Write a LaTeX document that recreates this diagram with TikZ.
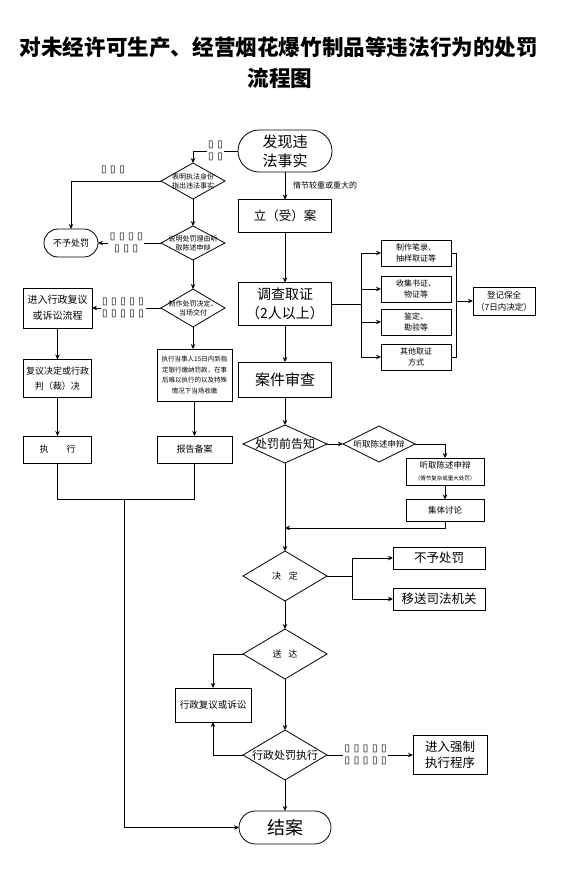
\documentclass[tikz,border=0pt]{standalone}
\usepackage{fontspec}
\setmainfont{Noto Sans CJK SC}
\newfontfamily\dejavu{DejaVu Sans}
\usetikzlibrary{shapes.geometric,arrows.meta}
\newcommand\fs[2]{\fontsize{#1}{#2}\selectfont}
\newcommand\tg{▯}
\newcommand\tgs{\hspace{3.6pt}}
\begin{document}
\begin{tikzpicture}[x=1pt,y=-1pt,
  every node/.style={inner sep=0pt, outer sep=0pt},
  ln/.style={line width=0.8pt, draw=black},
  bx/.style={draw, line width=0.8pt, rectangle, align=center},
  dia/.style={draw, line width=0.8pt, diamond, inner sep=0pt},
  arr/.style={-{Stealth[length=5pt,width=4.5pt]}},
  tofu/.style={fill=white, inner sep=1.5pt, align=center, font=\dejavu\fs{10pt}{12.5pt}}
]
\useasboundingbox (0,0) rectangle (560,878);

% title
\node[font=\bfseries\fs{21.6pt}{26pt}] (title1) at (279,47) {对未经许可生产、经营烟花爆竹制品等违法行为的处罚};
\node[font=\bfseries\fs{21.6pt}{26pt}] (title2) at (280,78) {流程图};

% main column
\node[bx, rounded corners=21pt, minimum width=94pt, minimum height=42pt, font=\fs{15pt}{19pt}] (start) at (285,151) {发现违\\法事实};
\node[font=\fs{8pt}{10pt}, anchor=west] (lab1) at (293,185) {情节较重或重大的};
\node[bx, minimum width=93pt, minimum height=33pt, font=\fs{12.5pt}{15pt}] (li) at (285,216) {立（受）案};
\node[bx, minimum width=93pt, minimum height=43pt, font=\fs{14pt}{19pt}] (dc) at (285,304) {调查取证\\（2人以上）};
\node[bx, minimum width=93pt, minimum height=35pt, font=\fs{15pt}{18pt}] (sc) at (285,379.5) {案件审查};
\draw[ln,arr] (start) -- (li);
\draw[ln,arr] (li) -- (dc);
\draw[ln,arr] (dc) -- (sc);

% evidence
\node[bx, minimum width=70pt, minimum height=26pt, font=\fs{8pt}{11pt}] (e1) at (416,253) {制作笔录、\\抽样取证等};
\node[bx, minimum width=70pt, minimum height=26pt, font=\fs{8pt}{11pt}] (e2) at (416,289) {收集书证、\\物证等};
\node[bx, minimum width=70pt, minimum height=26pt, font=\fs{8pt}{11pt}] (e3) at (416,322) {鉴定、\\勘验等};
\node[bx, minimum width=70pt, minimum height=26pt, font=\fs{8pt}{11pt}] (e4) at (416,357) {其他取证\\方式};
\node[bx, minimum width=62pt, minimum height=28pt, font=\fs{8.5pt}{12pt}] (dj) at (504,301) {登记保全\\（7日内决定）};
\coordinate (vl) at (361,304);
\coordinate (vr) at (456,301);
\draw[ln] (dc.east) -- (vl);
\draw[ln] (e1.west -| vl) -- (e4.west -| vl);
\foreach \e in {e1,e2,e3,e4} \draw[ln,arr] (\e.west -| vl) -- (\e.west);
\draw[ln] (e1.east) -- (e1.east -| vr) -- (e4.east -| vr) -- (e4.east);
\draw[ln,arr] (vr) -- (dj.west);

% notification
\node[dia, minimum width=84pt, minimum height=38pt, label={[font=\fs{12pt}{14pt}]center:处罚前告知}] (pre) at (285,444) {};
\node[dia, minimum width=72pt, minimum height=36pt, label={[font=\fs{8.5pt}{10pt}]center:听取陈述申辩}] (ting) at (379,444) {};
\node[bx, minimum width=78pt, minimum height=27pt] (tb) at (445,471.5) {{\fs{8.5pt}{10pt}听取陈述申辩}\\{\fs{5.5pt}{8pt}（情节复杂或重大处罚）}};
\node[bx, minimum width=78pt, minimum height=22pt, font=\fs{8.5pt}{10pt}] (jt) at (445,510.5) {集体讨论};
\draw[ln,arr] (sc) -- (pre);
\draw[ln,arr] (pre.east) -- (ting.west);
\draw[ln,arr] (ting.east) -| (tb.north);
\draw[ln,arr] (tb) -- (jt);

% decision
\node[dia, minimum width=84pt, minimum height=50pt, label={[font=\fs{9pt}{10pt}]center:决\hspace{8pt}定}] (jd) at (285,576) {};
\draw[ln,arr] (pre.south) -- (jd.north);
\draw[ln,arr] (jt.south) -- (445,528) -- (285,528);
\node[bx, minimum width=92pt, minimum height=22pt, font=\fs{12.5pt}{14pt}] (by) at (439,558) {不予处罚};
\node[bx, minimum width=92pt, minimum height=22pt, font=\fs{12.5pt}{14pt}] (ys) at (439,599) {移送司法机关};
\coordinate (jb) at (352,576);
\draw[ln] (jd.east) -- (jb);
\draw[ln,arr] (jb) |- (by.west);
\draw[ln,arr] (jb) |- (ys.west);

% delivery
\node[dia, minimum width=84pt, minimum height=50pt, label={[font=\fs{9pt}{10pt}]center:送\hspace{7pt}达}] (sd) at (285,654) {};
\draw[ln,arr] (jd.south) -- (sd.north);
\node[bx, minimum width=76pt, minimum height=34pt, font=\fs{9.5pt}{11pt}] (fy) at (213,705) {行政复议或诉讼};
\draw[ln,arr] (sd.west) -| (fy.north);
\node[dia, minimum width=84pt, minimum height=50pt, label={[font=\fs{11pt}{13pt}]center:行政处罚执行}] (zx) at (285,755) {};
\draw[ln,arr] (sd.south) -- (zx.north);
\draw[ln,arr] (zx.west) -| (fy.south);
\node[bx, minimum width=74pt, minimum height=39pt, font=\fs{12.5pt}{16pt}] (qz) at (450,755) {进入强制\\执行程序};
\draw[ln,arr] (zx.east) -- node[tofu, pos=0.45] (t5) {\tg\tgs\tg\tgs\tg\tgs\tg\tgs\tg\\\tg\tgs\tg\tgs\tg\tgs\tg\tgs\tg} (qz.west);
\node[bx, rounded corners=16.5pt, minimum width=92pt, minimum height=33pt, font=\fs{18pt}{20pt}] (ja) at (285,827.5) {结案};
\draw[ln,arr] (zx.south) -- (ja.north);

% left column
\node[dia, minimum width=64pt, minimum height=36pt, label={[font=\fs{7pt}{9pt},align=center]center:表明执法身份\\指出违法事实}] (d1) at (193,181) {};
\draw[ln,arr] (start.west) -- node[tofu] (t1) {\tg\tgs\tg\\\tg\tgs\tg} (193,151) -- (d1.north);
\node[bx, rounded corners=14pt, minimum width=54pt, minimum height=28pt, font=\fs{9pt}{10pt}] (bl) at (71,243) {不予处罚};
\draw[ln,arr] (d1.west) -| (bl.north);
\node[tofu, fill=none] (t2) at (113,170) {\tg\tgs\tg\tgs\tg};
\node[dia, minimum width=64pt, minimum height=34pt, label={[font=\fs{7pt}{9pt},align=center]center:说明处罚理由听\\取陈述申辩}] (d2) at (193,243) {};
\draw[ln,arr] (d1.south) -- (d2.north);
\draw[ln,arr] (d2.west) -- node[tofu, pos=0.55] (t3) {\tg\tgs\tg\tgs\tg\tgs\tg\\\tg\tgs\tg\tgs\tg} (bl.east);
\node[dia, minimum width=64pt, minimum height=38pt, label={[font=\fs{7pt}{9pt},align=center]center:制作处罚决定、\\当场交付}] (d3) at (193,308) {};
\draw[ln,arr] (d2.south) -- (d3.north);
\node[bx, minimum width=69pt, minimum height=40pt, font=\fs{10pt}{16pt}] (xz) at (57.5,308) {进入行政复议\\或诉讼流程};
\draw[ln,arr] (d3.west) -- node[tofu, pos=0.55] (t4) {\tg\tgs\tg\tgs\tg\tgs\tg\tgs\tg\\\tg\tgs\tg\tgs\tg\tgs\tg\tgs\tg} (xz.east);
\node[bx, minimum width=68pt, minimum height=38pt, font=\fs{9pt}{15pt}] (fj) at (57.5,378.5) {复议决定或行政\\判（裁）决};
\node[bx, minimum width=68pt, minimum height=27pt, font=\fs{9pt}{10pt}] (zx1) at (57.5,449.5) {执\hspace{18pt}行};
\draw[ln,arr] (xz) -- (fj);
\draw[ln,arr] (fj) -- (zx1);
\node[bx, minimum width=75pt, minimum height=52pt, font=\fs{6.5pt}{10.5pt}] (dsr) at (194.5,375) {执行当事人15日内到指\\定银行缴纳罚款，在事\\后难以执行的以及特殊\\情况下当场收缴};
\draw[ln,arr] (d3.south) -- (d3.south |- dsr.north);
\node[bx, minimum width=75pt, minimum height=27pt, font=\fs{9pt}{10pt}] (bb) at (194.5,449.5) {报告备案};
\draw[ln,arr] (dsr) -- (bb);
\coordinate (m) at (124,499);
\draw[ln] (zx1.south) |- (bb.south |- m) -- (bb.south);
\draw[ln,arr] (m) |- (ja.west);
\end{tikzpicture}
\end{document}
